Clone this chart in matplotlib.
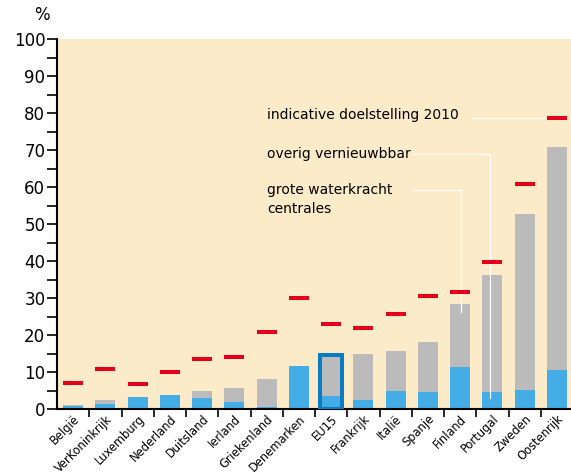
import matplotlib.pyplot as plt
from matplotlib import font_manager
import numpy as np

countries = ['België', 'VerKoninkrijk', 'Luxemburg', 'Nederland', 'Duitsland', 'Ierland',
             'Griekenland', 'Denemarken', 'EU15', 'Frankrijk', 'Italië', 'Spanje',
             'Finland', 'Portugal', 'Zweden', 'Oostenrijk']
# grote waterkracht centrales (blue) and total incl. overig vernieuwbaar (gray top)
hydro = [0.8, 1.4, 3.3, 3.8, 3.0, 1.9, 0.5, 11.7, 3.5, 2.4, 4.9, 4.6, 11.4, 4.6, 5.1, 10.6]
total = [1.1, 2.4, 3.3, 3.8, 4.9, 5.7, 8.1, 11.7, 14.2, 14.9, 15.7, 18.2, 28.5, 36.3, 52.6, 70.7]
target = [7.0, 10.8, 6.7, 9.9, 13.4, 14.0, 20.8, 30.1, 23.0, 21.8, 25.7, 30.6, 31.7, 39.8, 60.8, 78.6]

hydro = np.array(hydro)
total = np.array(total)
other = total - hydro

blue = '#45ade5'
gray = '#bbbbbb'
red = '#e2001a'
cream = '#fcebc8'

plt.rcParams['font.family'] = ['DejaVu Sans']

# narrow-looking font for the country labels
fonts = font_manager.fontManager.ttflist
lab_kw = dict(family='Liberation Sans', fontsize=8.8)
if any(f.name == 'DejaVu Sans' and f.stretch == 'condensed' for f in fonts):
    lab_kw = dict(family='DejaVu Sans', fontstretch='condensed', fontsize=9.2)

fig = plt.figure(figsize=(5.71, 4.76), dpi=100)
ax = fig.add_axes([57 / 571, 1 - 409 / 476, 516 / 571, 370 / 476])
ax.set_facecolor(cream)

x = np.arange(len(countries))
w = 0.62
ax.bar(x, hydro, w, color=blue, zorder=2)
ax.bar(x, other, w, bottom=hydro, color=gray, zorder=2)
ax.hlines(target, x - w / 2, x + w / 2, color=red, lw=2.9, zorder=3)

# highlight EU15
i = countries.index('EU15')
ax.bar(x[i], total[i] + 0.5, 0.70, fill=False, edgecolor='#0a7cc1', lw=2.9, zorder=4)

ax.set_xlim(-0.5, len(countries) - 0.5)
ax.set_ylim(0, 100)
ax.set_yticks(np.arange(0, 101, 10))
ax.set_yticks(np.arange(5, 100, 10), minor=True)
ax.tick_params(axis='y', which='both', direction='out', length=7.4, width=1.2, labelsize=12, pad=1)
ax.set_xticks(x)
ax.set_xticklabels(countries, rotation=45, ha='right', va='top', rotation_mode='anchor', **lab_kw)
ax.tick_params(axis='x', which='major', length=0, pad=2.5)
ax.set_xticks(np.arange(-0.5, len(countries), 1)[1:-1], minor=True)
ax.tick_params(axis='x', which='minor', direction='out', length=5.5, width=1.2)

for s in ['top', 'right']:
    ax.spines[s].set_visible(False)
for s in ['left', 'bottom']:
    ax.spines[s].set_linewidth(1.5)

fig.text(0.073, 0.968, '%', fontsize=12, ha='center', va='center')

# annotations with white leader lines
fs = 10
ax.text(6.01, 79.4, 'indicative doelstelling 2010', fontsize=fs, va='center', zorder=5)
ax.plot([12.36, 14.7], [78.7, 78.7], color='white', lw=0.9, zorder=2.5)

ax.text(6.01, 68.8, 'overig vernieuwbbar', fontsize=fs, va='center', zorder=5)
ax.plot([10.5, 12.92, 12.92], [68.8, 68.8, 3.0], color='white', lw=0.9, zorder=2.5)

ax.text(6.01, 56.6, 'grote waterkracht\ncentrales', fontsize=fs, va='center', linespacing=1.5, zorder=5)
ax.plot([10.54, 12.02, 12.02], [59.3, 59.3, 26.3], color='white', lw=0.9, zorder=2.5)

fig.savefig('out.png', dpi=100)
